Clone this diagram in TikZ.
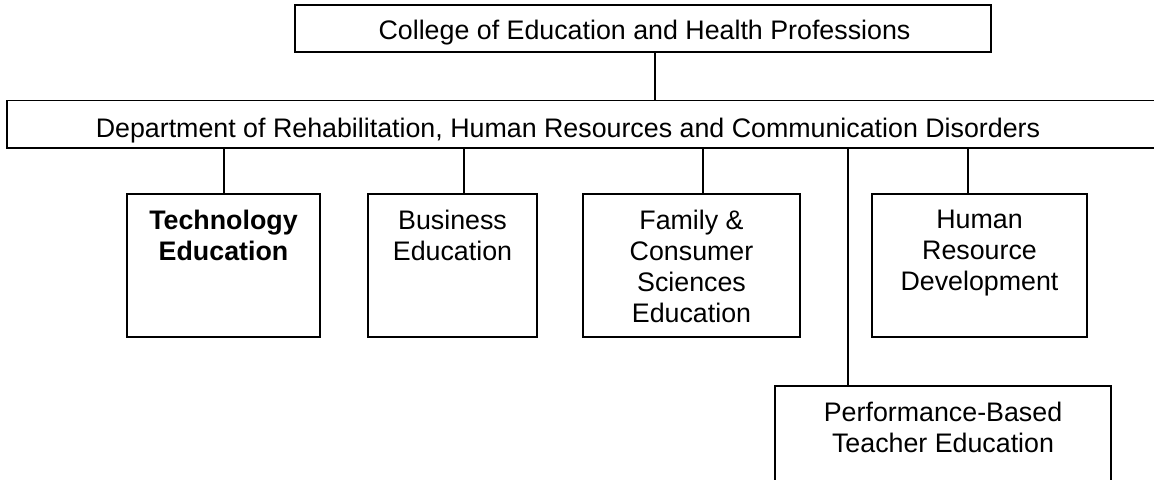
\documentclass[tikz,border=0pt]{standalone}
\usepackage{fontspec}
\setmainfont{Liberation Sans}
\begin{document}
\begin{tikzpicture}[x=0.5pt,y=-0.5pt,
  every node/.style={font=\fontsize{13.4pt}{15.5pt}\selectfont},
  unit/.style={draw, line width=1.1pt, inner sep=0pt, rectangle},
  label text/.style={inner sep=0pt, align=center, anchor=north},
  link/.style={line width=1pt}]
\fill[white] (0,0) rectangle (1154,479);
\useasboundingbox (0,0) rectangle (1154,479);
% top
\node[unit, line width=1pt, minimum width=348pt, minimum height=23.5pt] (top) at (643,28.5) {};
\node[inner sep=0pt, anchor=base] (toptext) at (644.5,39.5) {College of Education and Health Professions};
% department
\node[unit, line width=0.9pt, minimum width=576.5pt, minimum height=23.75pt] (dept) at (583.5,124.25) {};
\node[inner sep=0pt, anchor=base] (depttext) at (568,137.5) {Department of Rehabilitation, Human Resources and Communication Disorders};
% children
\node[unit, minimum width=96.5pt, minimum height=71.5pt] (tech) at (223.5,265.5) {};
\node[unit, minimum width=84.5pt, minimum height=71.5pt] (bus) at (452.5,265.5) {};
\node[unit, minimum width=108.5pt, minimum height=71.5pt] (fam) at (691.5,265.5) {};
\node[unit, minimum width=107.5pt, minimum height=71.5pt] (hum) at (979.5,265.5) {};
\node[unit, minimum width=168pt, minimum height=57pt] (perf) at (943,443) {};
\node[label text, font=\fontsize{13.4pt}{15.5pt}\selectfont\bfseries] (techtext) at ([yshift=-8.5pt]tech.north) {Technology\\Education};
\node[label text] (bustext) at ([yshift=-8.5pt]bus.north) {Business\\Education};
\node[label text] (famtext) at ([yshift=-8.5pt]fam.north) {Family \&\\Consumer\\Sciences\\Education};
\node[label text] (humtext) at ([yshift=-8.5pt]hum.north) {Human\\Resource\\Development};
\node[label text] (perftext) at ([yshift=-8.5pt]perf.north) {Performance-Based\\Teacher Education};
% connectors
\draw[link] ([xshift=6pt]top.south) -- ([xshift=6pt]top.south |- dept.north);
\draw[link] (tech.north) -- (tech.north |- dept.south);
\draw[link] ([xshift=5.75pt]bus.north) -- ([xshift=5.75pt]bus.north |- dept.south);
\draw[link] ([xshift=5.75pt]fam.north) -- ([xshift=5.75pt]fam.north |- dept.south);
\draw[link] ([xshift=-5.75pt]hum.north) -- ([xshift=-5.75pt]hum.north |- dept.south);
\draw[link] ([xshift=-47.5pt]perf.north) -- ([xshift=-47.5pt]perf.north |- dept.south);
\end{tikzpicture}
\end{document}
